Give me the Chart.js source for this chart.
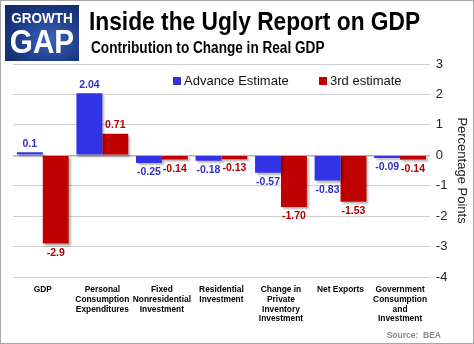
<!DOCTYPE html>
<html>
<head>
<meta charset="utf-8">
<script src="https://cdn.jsdelivr.net/npm/chart.js@4"></script>
<style>
  html, body { margin: 0; padding: 0; background: #fff; }
  #wrap {
    position: relative; width: 472px; height: 342px;
    border: 1px solid #a8a8a8; overflow: hidden; background: #fff;
  }
  #chart { position: absolute; left: 0; top: 0; }
  #logo {
    position: absolute; left: 4px; top: 4px; width: 74px; height: 56px;
    background: radial-gradient(ellipse at 60% 60%, #3b63b8 0%, #1c3a86 55%, #0f2560 100%);
    color: #fff; font-family: Arial, "Liberation Sans", sans-serif; font-weight: bold;
    text-align: center; line-height: 1; overflow: hidden;
  }
  #logo .g1 { font-size: 15px; padding-top: 5px; transform: scaleX(0.9); }
  #logo .g2 { font-size: 33px; transform: scaleX(0.9); }
  #title {
    position: absolute; left: 88px; top: 5px;
    font-family: Arial, "Liberation Sans", sans-serif; font-weight: bold;
    font-size: 26px; color: #000; white-space: nowrap;
    transform: scaleX(0.875); transform-origin: left top;
  }
  #subtitle {
    position: absolute; left: 90px; top: 38px;
    font-family: Arial, "Liberation Sans", sans-serif; font-weight: bold;
    font-size: 16px; color: #000; white-space: nowrap;
    transform: scaleX(0.85); transform-origin: left top;
  }
  #source {
    position: absolute; right: 32px; bottom: 3px;
    font-family: Arial, "Liberation Sans", sans-serif; font-weight: bold;
    font-size: 8.5px; color: #8a8a8a; white-space: nowrap;
  }
</style>
</head>
<body>
<div id="wrap">
  <canvas id="chart" width="472" height="342"></canvas>
  <div id="logo"><div class="g1">GROWTH</div><div class="g2">GAP</div></div>
  <div id="title">Inside the Ugly Report on GDP</div>
  <div id="subtitle">Contribution to Change in Real GDP</div>
  <div id="source">Source:&nbsp; BEA</div>
</div>
<script>
const categories = [
  ["GDP"],
  ["Personal", "Consumption", "Expenditures"],
  ["Fixed", "Nonresidential", "Investment"],
  ["Residential", "Investment"],
  ["Change in", "Private", "Inventory", "Investment"],
  ["Net Exports"],
  ["Government", "Consumption", "and", "Investment"],
];
const advanceValues = [0.1, 2.04, -0.25, -0.18, -0.57, -0.83, -0.09];
const thirdValues = [-2.9, 0.71, -0.14, -0.13, -1.70, -1.53, -0.14];
const advanceLabels = ["0.1", "2.04", "-0.25", "-0.18", "-0.57", "-0.83", "-0.09"];
const thirdLabels = ["-2.9", "0.71", "-0.14", "-0.13", "-1.70", "-1.53", "-0.14"];
const yTicks = [3, 2, 1, 0, -1, -2, -3, -4];

const COLORS = {
  advance: "#3232e6",
  third: "#c00000",
  advanceText: "#3030c8",
  thirdText: "#b00000",
};

// soft drop shadow under the bars
const barShadow = {
  id: "barShadow",
  beforeDatasetDraw(chart) {
    const ctx = chart.ctx;
    ctx.save();
    ctx.shadowColor = "rgba(0,0,0,0.28)";
    ctx.shadowBlur = 2;
    ctx.shadowOffsetX = 2;
    ctx.shadowOffsetY = 2;
  },
  afterDatasetDraw(chart) {
    chart.ctx.restore();
  },
};

// value labels above / below each bar
const valueLabels = {
  id: "valueLabels",
  afterDatasetsDraw(chart) {
    const ctx = chart.ctx;
    ctx.save();
    ctx.font = "bold 10.5px Arial, 'Liberation Sans', sans-serif";
    ctx.textAlign = "center";
    chart.data.datasets.forEach((ds, i) => {
      const meta = chart.getDatasetMeta(i);
      meta.data.forEach((bar, j) => {
        const v = ds.data[j];
        ctx.fillStyle = ds.textColor;
        if (v >= 0) {
          ctx.textBaseline = "bottom";
          ctx.fillText(ds.valueText[j], bar.x, bar.y - 3);
        } else {
          ctx.textBaseline = "top";
          ctx.fillText(ds.valueText[j], bar.x, bar.y + 4);
        }
      });
    });
    ctx.restore();
  },
};

// legend drawn inside the plot, under the top gridline
const innerLegend = {
  id: "innerLegend",
  afterDraw(chart) {
    const ctx = chart.ctx;
    const area = chart.chartArea;
    const y = area.top + 17;
    let x = area.left + 160;
    ctx.save();
    ctx.font = "13px Arial, 'Liberation Sans', sans-serif";
    ctx.textBaseline = "middle";
    chart.data.datasets.forEach((ds) => {
      ctx.fillStyle = ds.backgroundColor;
      ctx.fillRect(x, y - 4, 8, 8);
      ctx.fillStyle = "#111";
      ctx.fillText(ds.label, x + 11, y);
      x += 146;
    });
    ctx.restore();
  },
};

new Chart(document.getElementById("chart"), {
  type: "bar",
  data: {
    labels: categories,
    datasets: [
      {
        label: "Advance Estimate",
        data: advanceValues,
        valueText: advanceLabels,
        backgroundColor: COLORS.advance,
        textColor: COLORS.advanceText,
        categoryPercentage: 0.87,
        barPercentage: 1,
      },
      {
        label: "3rd estimate",
        data: thirdValues,
        valueText: thirdLabels,
        backgroundColor: COLORS.third,
        textColor: COLORS.thirdText,
        categoryPercentage: 0.87,
        barPercentage: 1,
      },
    ],
  },
  options: {
    responsive: false,
    animation: false,
    layout: { padding: { top: 63, left: 12, right: 0, bottom: 19 } },
    plugins: {
      legend: { display: false },
      tooltip: { enabled: false },
    },
    scales: {
      x: {
        grid: { display: false },
        border: { display: false },
        ticks: {
          color: "#000",
          maxRotation: 0,
          autoSkip: false,
          padding: 0,
          font: { family: "Arial, 'Liberation Sans', sans-serif", size: 8.4, weight: "bold", lineHeight: 1.16 },
        },
      },
      y: {
        position: "right",
        min: -4,
        max: 3,
        afterBuildTicks: (axis) => { axis.ticks = yTicks.map((v) => ({ value: v })); },
        grid: {
          color: (c) => (c.tick && c.tick.value === 0 ? "#b0b0b0" : "#d0d0d0"),
          lineWidth: (c) => (c.tick && c.tick.value === 0 ? 1.5 : 1),
          drawTicks: false,
        },
        border: { display: false },
        ticks: {
          color: "#222",
          padding: 6,
          font: { family: "Arial, 'Liberation Sans', sans-serif", size: 13 },
        },
        title: {
          display: true,
          text: "Percentage Points",
          color: "#222",
          padding: { top: 4, bottom: 0 },
          font: { family: "Arial, 'Liberation Sans', sans-serif", size: 13 },
        },
      },
    },
  },
  plugins: [barShadow, valueLabels, innerLegend],
});
</script>
</body>
</html>
